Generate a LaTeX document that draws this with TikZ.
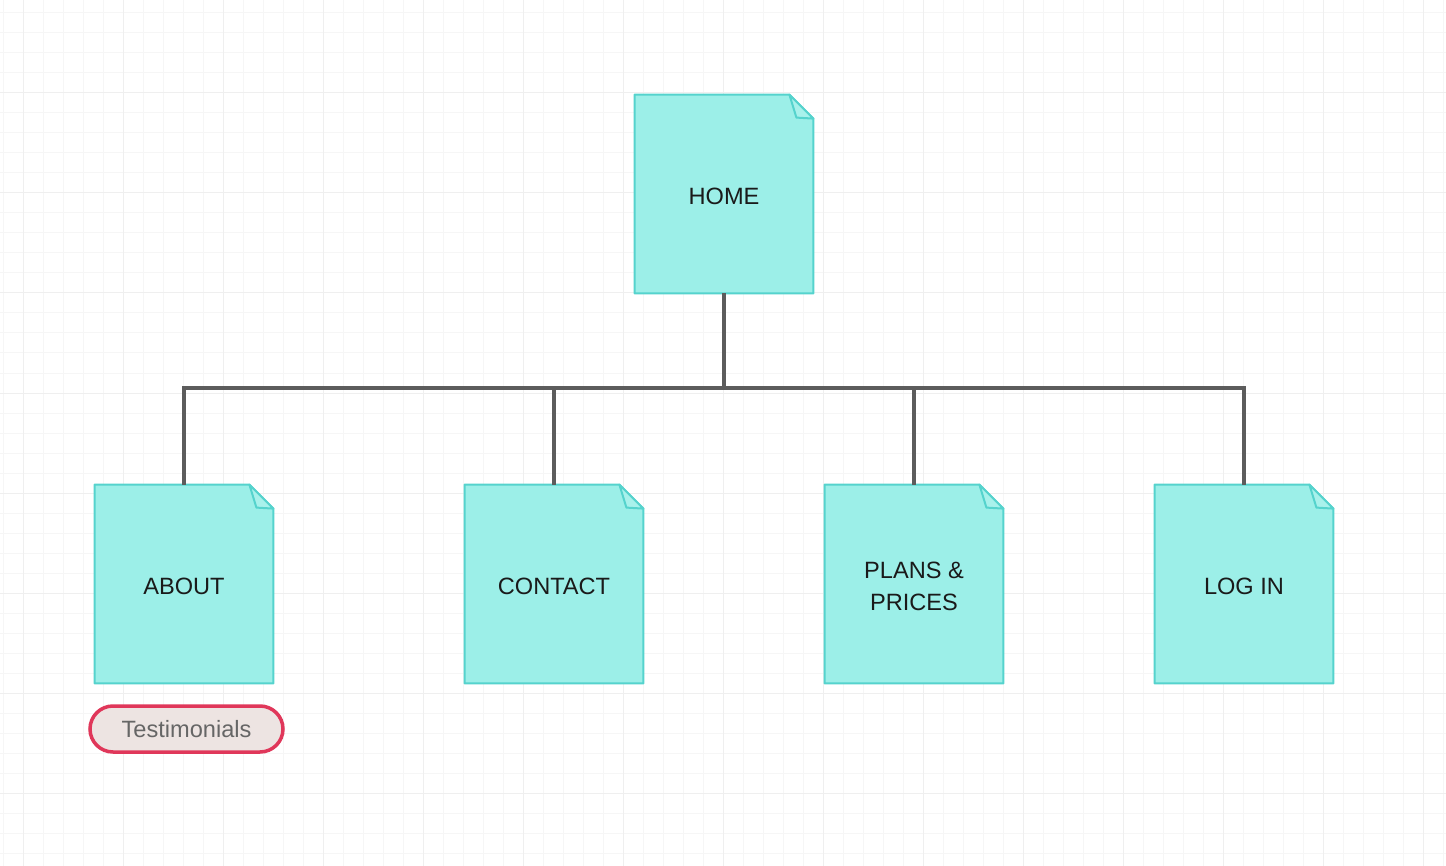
\documentclass[tikz,border=0pt]{standalone}
\usepackage{fontspec}
\setmainfont{Liberation Sans}
\usetikzlibrary{backgrounds}
\definecolor{docfill}{HTML}{9CEFE8}
\definecolor{docline}{HTML}{55D3CD}
\definecolor{foldfill}{HTML}{A8F1EB}
\definecolor{connc}{HTML}{5C5C5C}
\definecolor{pillfill}{HTML}{EDE4E2}
\definecolor{pillline}{HTML}{E0375A}
\definecolor{pilltext}{HTML}{666666}
\definecolor{gridminor}{HTML}{F6F6F6}
\definecolor{gridmajor}{HTML}{EFEFEF}
\definecolor{labeltext}{HTML}{1A1A1A}
\tikzset{
  docnode/.style={minimum width=89pt, minimum height=99pt, inner sep=0pt, align=center,
    text=labeltext, font=\fontsize{11.8}{16}\selectfont},
  docedge/.style={draw=docline, line width=1pt, line join=round},
  conn/.style={draw=connc, line width=1.75pt, line join=miter},
  pill/.style={draw=pillline, fill=pillfill, line width=1.75pt, rounded corners=11.5pt,
    minimum width=96.5pt, minimum height=23pt, inner sep=0pt, text=pilltext,
    font=\fontsize{11.8}{14}\selectfont}
}
% text sits 1pt below the centre of the sheet: the sheet is drawn 1pt above the node
\newcommand{\docshape}[1]{%
  \path[docedge, fill=docfill] ([yshift=1pt]#1.north west) -- ([xshift=-12pt,yshift=1pt]#1.north east)
    -- ([yshift=-11pt]#1.north east) -- ([yshift=1pt]#1.south east) -- ([yshift=1pt]#1.south west) -- cycle;
  \path[docedge, fill=foldfill] ([xshift=-12pt,yshift=1pt]#1.north east)
    -- ([xshift=-8.5pt,yshift=-10.5pt]#1.north east) -- ([yshift=-11pt]#1.north east) -- cycle;
}
\begin{document}
\begin{tikzpicture}[x=0.5pt,y=-0.5pt]
\useasboundingbox (0,0) rectangle (1446,866);
\begin{scope}[on background layer]
  \fill[white] (0,0) rectangle (1446,866);
  \foreach \gx in {3,23,...,1443} \draw[gridminor, line width=0.5pt] (\gx,0) -- (\gx,866);
  \foreach \gy in {13,33,...,853} \draw[gridminor, line width=0.5pt] (0,\gy) -- (1446,\gy);
  \foreach \gx in {23,123,...,1423} \draw[gridmajor, line width=0.5pt] (\gx,0) -- (\gx,866);
  \foreach \gy in {93,193,...,793} \draw[gridmajor, line width=0.5pt] (0,\gy) -- (1446,\gy);
\end{scope}

\node[docnode] (home) at (724,196) {HOME};
\node[docnode] (about) at (184,586) {ABOUT};
\node[docnode] (contact) at (554,586) {CONTACT};
\node[docnode] (plans) at (914,586) {PLANS \&\\PRICES};
\node[docnode] (login) at (1244,586) {LOG IN};
\node[pill] (testi) at (186.5,729) {Testimonials};

\begin{scope}[on background layer]
  \docshape{home}
  \docshape{about}
  \docshape{contact}
  \docshape{plans}
  \docshape{login}
\end{scope}

\coordinate (bus) at (724,388);
\draw[conn] ([yshift=1pt]home.south) -- (bus);
\draw[conn] ([yshift=1pt]about.north) |- (bus);
\draw[conn] ([yshift=1pt]login.north) |- (bus);
\draw[conn] ([yshift=1pt]contact.north) -- (contact.north |- bus);
\draw[conn] ([yshift=1pt]plans.north) -- (plans.north |- bus);
\end{tikzpicture}
\end{document}
